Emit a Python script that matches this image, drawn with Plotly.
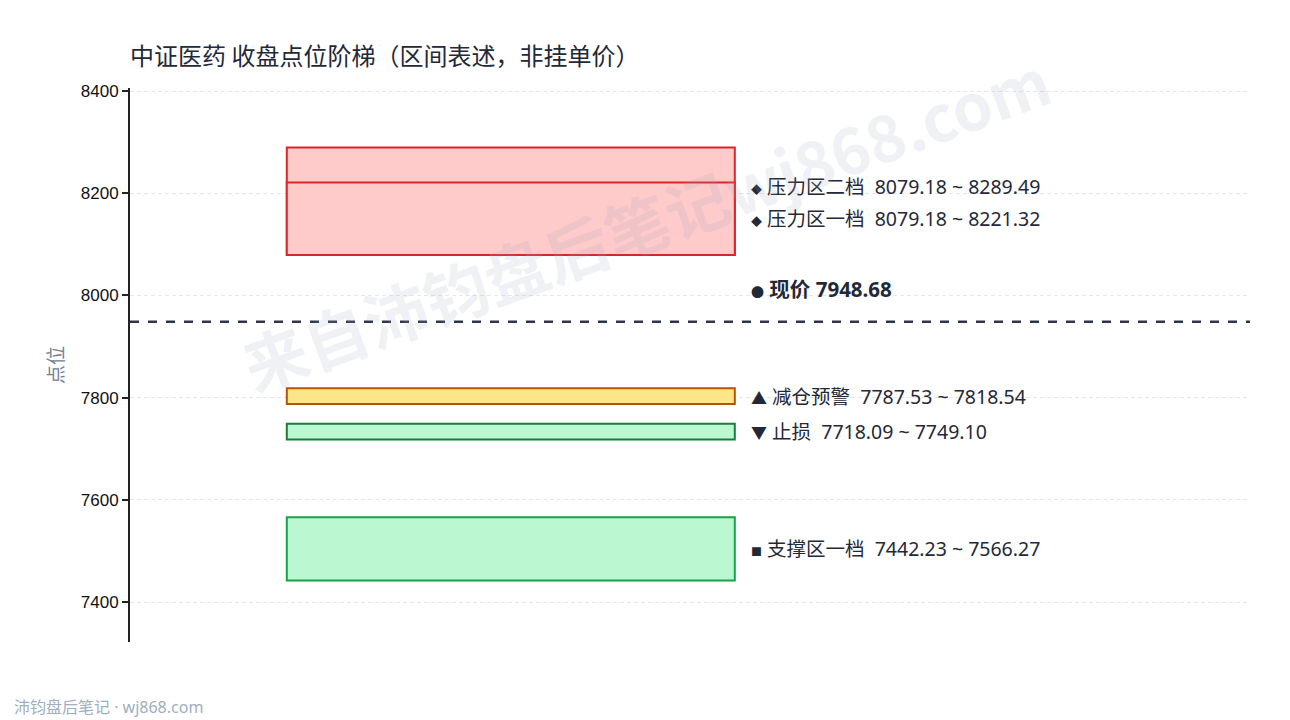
import plotly.graph_objects as go

# 区间数据
zone_names = ["压力区二档", "压力区一档", "减仓预警", "止损", "支撑区一档"]
zone_low = [8079.18, 8079.18, 7787.53, 7718.09, 7442.23]
zone_high = [8289.49, 8221.32, 7818.54, 7749.10, 7566.27]
zone_icons = ["◆", "◆", "▲", "▼", "■"]
zone_fill = ["#fecaca", "#fecaca", "#fde68a", "#bbf7d0", "#bbf7d0"]
zone_line = ["#dc2626", "#dc2626", "#b45309", "#15803d", "#16a34a"]
price = 7948.68
y_ticks = [7400, 7600, 7800, 8000, 8200, 8400]

FONT = "Noto Sans, Noto Sans CJK SC"
x0, x1 = 0.14, 0.54
label_x = 0.553
sp = "\u00a0\u00a0"

fig = go.Figure()
# 空轨迹，让坐标轴生效
fig.add_trace(go.Scatter(x=[0, 1], y=[zone_low[-1], zone_high[0]], mode="markers",
                         marker=dict(opacity=0), hoverinfo="skip", showlegend=False))

for lo, hi, fc, lc in zip(zone_low, zone_high, zone_fill, zone_line):
    fig.add_shape(type="rect", xref="x", yref="y", x0=x0, x1=x1, y0=lo, y1=hi,
                  fillcolor=fc, line=dict(color=lc, width=2), layer="above")

# 现价虚线
fig.add_shape(type="line", xref="paper", yref="y", x0=0, x1=1, y0=price, y1=price,
              line=dict(color="#2d3748", width=2.5, dash="dash"), layer="above")

# 标签位置：区间中点，互相避让
mids = [(lo + hi) / 2 for lo, hi in zip(zone_low, zone_high)]
label_y = list(mids)
min_gap = 63
for i in range(len(label_y) - 2, -1, -1):
    if label_y[i] - label_y[i + 1] < min_gap:
        label_y[i] = label_y[i + 1] + min_gap

for name, lo, hi, icon, ly in zip(zone_names, zone_low, zone_high, zone_icons, label_y):
    if icon in ("◆", "■"):
        icon_txt = f"<span style='font-size:11px'>{icon}</span>"
    else:
        icon_txt = f"<span style='font-size:16px'>{icon}</span>"
    fig.add_annotation(x=label_x, y=ly, xref="x", yref="y", xanchor="left", yanchor="middle",
                       text=f"{icon_txt} {name}{sp}{lo:.2f} ~ {hi:.2f}", showarrow=False,
                       font=dict(family=FONT, size=19.5, color="#1f2937"))

fig.add_annotation(x=label_x, y=price, xref="x", yref="y", yshift=33, xanchor="left",
                   yanchor="middle",
                   text=f"<b><span style='font-size:13px'>●</span> 现价 {price:.2f}</b>",
                   showarrow=False, font=dict(family=FONT, size=20.5, color="#1f2937"))

# 水印
fig.add_annotation(x=0.46, y=0.76, xref="paper", yref="paper", xanchor="center", yanchor="middle",
                   text="<b>来自沛钧盘后笔记wj868.com</b>", showarrow=False, textangle=-20,
                   font=dict(family="Noto Sans CJK SC", size=64, color="rgba(160,165,190,0.16)"))

# 页脚
fig.add_annotation(x=-0.1054, y=-0.117, xref="paper", yref="paper", text="沛钧盘后笔记 · wj868.com",
                   showarrow=False, xanchor="left", yanchor="middle",
                   font=dict(family=FONT, size=16, color="#a0aec0"))

fig.update_layout(
    width=1290, height=720,
    margin=dict(l=130, r=40, t=88, b=78),
    paper_bgcolor="white", plot_bgcolor="white",
    title=dict(text="中证医药 收盘点位阶梯（区间表述，非挂单价）", x=0.1008, xanchor="left",
               y=0.921, yanchor="middle",
               font=dict(family="Noto Sans CJK SC", size=24, color="#1f2937")),
    xaxis=dict(range=[0, 1], visible=False, fixedrange=True),
    yaxis=dict(range=[7322, 8406], tickvals=y_ticks, showline=True, linecolor="#222222",
               linewidth=2, ticks="outside", ticklen=6, tickwidth=2, tickcolor="#222222",
               showgrid=True, gridcolor="#e5e7eb", griddash="4px,3px", gridwidth=1,
               zeroline=False, tickfont=dict(family="Liberation Sans", size=17, color="#111111"),
               title=dict(text="点位", font=dict(family="Noto Sans CJK SC", size=19, color="#718096"),
                          standoff=12)),
    showlegend=False,
)

fig.write_html("out.html", config={"displayModeBar": False},
               post_script="document.body.style.margin='0';")
